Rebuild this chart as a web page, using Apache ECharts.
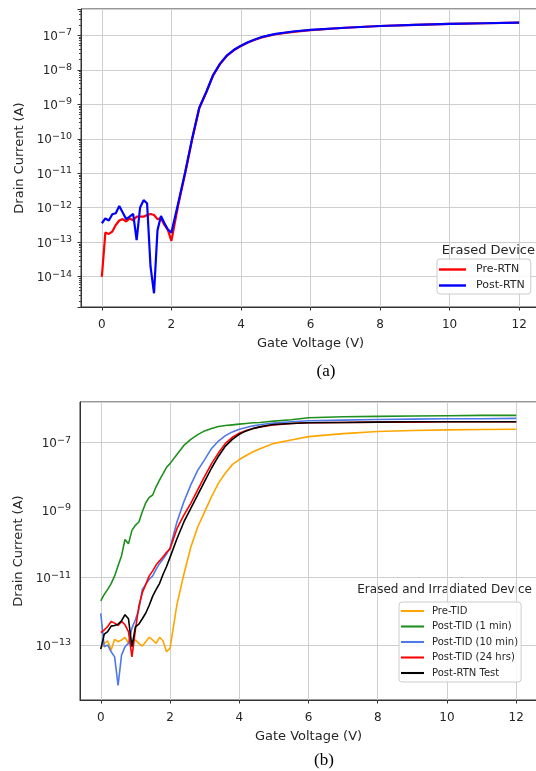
<!DOCTYPE html>
<html><head><meta charset="utf-8">
<script src="https://cdn.jsdelivr.net/npm/echarts@6/dist/echarts.min.js"></script>
<style>html,body{margin:0;padding:0;background:#fff}#c{width:536px;height:771px}</style>
</head><body><div id="c"></div>
<script>
// Gate voltage sweep (V), shared by every series
const voltage = [0,0.1,0.2,0.3,0.4,0.5,0.6,0.7,0.8,0.9,1.0,1.1,1.2,1.3,1.4,1.5,1.6,1.7,1.8,1.9,2.0,
  2.2,2.4,2.6,2.8,3.0,3.2,3.4,3.6,3.8,4.0,4.2,4.4,4.6,4.8,5.0,
  5.5,6,7,8,9,10,11,12];

// (a) Erased device: log10 of drain current (A)
const preRtnLog = [-14.0,-12.72,-12.76,-12.69,-12.50,-12.37,-12.33,-12.40,-12.31,-12.36,-12.26,-12.26,-12.26,-12.21,-12.18,-12.21,-12.33,-12.31,-12.50,-12.65,-12.96,
  -11.9,-10.98,-10.0,-9.12,-8.66,-8.16,-7.83,-7.59,-7.43,-7.31,-7.21,-7.13,-7.06,-7.01,-6.97,
  -6.9,-6.85,-6.78,-6.73,-6.70,-6.67,-6.65,-6.63];
const postRtnLog = [-12.45,-12.31,-12.37,-12.19,-12.16,-11.95,-12.14,-12.33,-12.26,-12.18,-12.94,-11.99,-11.78,-11.87,-13.71,-14.48,-12.65,-12.24,-12.45,-12.63,-12.72,
  -11.85,-10.95,-9.98,-9.1,-8.65,-8.15,-7.82,-7.58,-7.42,-7.3,-7.2,-7.12,-7.05,-7.0,-6.96,
  -6.89,-6.84,-6.78,-6.73,-6.70,-6.67,-6.65,-6.63];

// (b) Erased and irradiated device: log10 of drain current (A)
const preTidLog = [-13.10,-12.95,-12.88,-13.15,-12.83,-12.90,-12.85,-12.77,-12.95,-12.88,-12.85,-12.95,-13.03,-12.90,-12.77,-12.85,-12.95,-12.77,-12.88,-13.20,-13.10,
  -11.8,-10.9,-10.1,-9.5,-9.05,-8.6,-8.2,-7.9,-7.65,-7.5,-7.38,-7.27,-7.18,-7.1,-7.02,
  -6.92,-6.82,-6.73,-6.67,-6.64,-6.62,-6.61,-6.60];
const postTid1Log = [-11.69,-11.5,-11.35,-11.18,-10.95,-10.65,-10.35,-9.87,-10.0,-9.6,-9.45,-9.35,-9.05,-8.78,-8.62,-8.55,-8.3,-8.1,-7.92,-7.73,-7.62,
  -7.35,-7.08,-6.9,-6.76,-6.65,-6.58,-6.52,-6.49,-6.47,-6.45,-6.43,-6.41,-6.40,-6.38,-6.36,
  -6.32,-6.26,-6.23,-6.22,-6.21,-6.20,-6.19,-6.19];
const postTid10Log = [-12.06,-13.05,-13.0,-13.2,-13.35,-14.2,-13.3,-13.05,-12.95,-12.5,-12.25,-11.95,-11.35,-11.2,-11.05,-10.95,-10.75,-10.58,-10.45,-10.3,-10.12,
  -9.35,-8.75,-8.25,-7.82,-7.5,-7.17,-6.95,-6.79,-6.68,-6.6,-6.55,-6.5,-6.47,-6.44,-6.42,
  -6.38,-6.35,-6.33,-6.31,-6.30,-6.29,-6.29,-6.28];
const postTid24Log = [-12.63,-12.55,-12.45,-12.3,-12.35,-12.42,-12.3,-12.4,-12.6,-13.35,-12.55,-11.85,-11.45,-11.2,-10.95,-10.8,-10.62,-10.5,-10.38,-10.25,-10.15,
  -9.55,-9.15,-8.8,-8.4,-8.0,-7.62,-7.3,-7.02,-6.84,-6.72,-6.64,-6.58,-6.53,-6.5,-6.47,
  -6.43,-6.41,-6.40,-6.39,-6.39,-6.38,-6.38,-6.38];
const postRtnTestLog = [-13.12,-12.68,-12.6,-12.44,-12.42,-12.38,-12.28,-12.1,-12.22,-13.05,-12.46,-12.38,-12.22,-12.05,-11.82,-11.55,-11.35,-11.17,-10.9,-10.67,-10.4,
  -9.85,-9.35,-8.95,-8.55,-8.15,-7.75,-7.4,-7.1,-6.9,-6.75,-6.65,-6.58,-6.53,-6.49,-6.46,
  -6.43,-6.41,-6.40,-6.39,-6.38,-6.38,-6.38,-6.38];

const seriesNamesA = ['Pre-RTN','Post-RTN'];
const seriesNamesB = ['Pre-TID','Post-TID (1 min)','Post-TID (10 min)','Post-TID (24 hrs)','Post-RTN Test'];
const xTitle = 'Gate Voltage (V)';
const yTitle = 'Drain Current (A)';
const legendTitleA = 'Erased Device';
const legendTitleB = 'Erased and Irradiated Device';

function decade(v, oddOnly){
  const e = Math.log10(v);
  const r = Math.round(e);
  if (Math.abs(e - r) > 1e-6) return '';
  if (oddOnly && r % 2 === 0) return '';
  return '{b|10}{s|' + String(r).replace('-', '\u2212') + '}';
}
function pairs(arr){ return voltage.map((x,i) => [x, Math.pow(10, arr[i])]); }

const FONT = 'DejaVu Sans';
const TXT = '#262626';
const GRIDC = '#cfcfcf';
const RICH = {
  b:{fontFamily:FONT, fontSize:12, color:TXT, lineHeight:15, verticalAlign:'bottom'},
  s:{fontFamily:FONT, fontSize:9.5, color:TXT, lineHeight:15, verticalAlign:'top'}
};

function xAxisCfg(gi, gap){
  return {
    type:'value', gridIndex:gi, min:-0.6, max:12.6, splitNumber:6,
    name:xTitle, nameLocation:'middle', nameGap:gap,
    nameTextStyle:{fontFamily:FONT, fontSize:13, color:TXT},
    axisLine:{show:true, onZero:false, lineStyle:{color:'#333', width:1}},
    axisTick:{show:true, length:3.5, lineStyle:{color:'#333'}},
    axisLabel:{fontFamily:FONT, fontSize:12, color:TXT, margin:12, showMinLabel:false, showMaxLabel:false},
    splitLine:{show:true, lineStyle:{color:GRIDC, width:1}}
  };
}
const LINE_ICON = 'path://M0,0H100V9H0Z';

const option = {
  animation:false,
  backgroundColor:'#fff',
  grid:[
    {left:81, top:9, width:459, height:298, show:true, borderColor:'#333', borderWidth:1, outerBoundsMode:'none', containLabel:false},
    {left:80, top:402, width:457, height:298, show:true, borderColor:'#333', borderWidth:1, outerBoundsMode:'none', containLabel:false}
  ],
  xAxis:[xAxisCfg(0, 30), xAxisCfg(1, 30)],
  yAxis:[
    {type:'log', gridIndex:0, min:Math.pow(10,-14.878), max:Math.pow(10,-6.237),
     name:yTitle, nameLocation:'middle', nameGap:55,
     nameTextStyle:{fontFamily:FONT, fontSize:13, color:TXT},
     axisLine:{show:true, onZero:false, lineStyle:{color:'#333'}},
     axisTick:{show:true, length:3.5, lineStyle:{color:'#333'}},
     minorTick:{show:true, splitNumber:9, length:2, lineStyle:{color:'#444'}},
     axisLabel:{margin:9, formatter:v => decade(v,false), rich:RICH},
     splitLine:{show:true, lineStyle:{color:GRIDC, width:1}}},
    {type:'log', gridIndex:1, min:Math.pow(10,-14.63), max:Math.pow(10,-5.793),
     name:yTitle, nameLocation:'middle', nameGap:55,
     nameTextStyle:{fontFamily:FONT, fontSize:13, color:TXT},
     axisLine:{show:true, onZero:false, lineStyle:{color:'#333'}},
     axisTick:{show:false},
     axisLabel:{margin:9, formatter:v => decade(v,true), rich:RICH},
     // first split line is the lower bound; alternate so only odd decades get a visible line
     splitLine:{show:true, lineStyle:{color:[GRIDC, 'rgba(0,0,0,0)'], width:1}}}
  ],
  legend:[
    {data:seriesNamesA, orient:'vertical', left:437, top:259, itemWidth:27, itemHeight:14, itemGap:5, icon:LINE_ICON,
     padding:[5,6,3,2], borderColor:'#cccccc', borderWidth:1, borderRadius:3, backgroundColor:'rgba(255,255,255,0.85)',
     textStyle:{fontFamily:FONT, fontSize:11, color:TXT, padding:[0,0,0,5]}},
    {data:seriesNamesB, orient:'vertical', left:399, top:602, itemWidth:23, itemHeight:12, itemGap:5.5, icon:LINE_ICON,
     padding:[4,3,4,2], borderColor:'#cccccc', borderWidth:1, borderRadius:3, backgroundColor:'rgba(255,255,255,0.85)',
     textStyle:{fontFamily:FONT, fontSize:10, color:TXT, padding:[0,0,0,3]}}
  ],
  graphic:[
    {type:'text', x:535, y:251, style:{text:legendTitleA, align:'right', verticalAlign:'middle', font:'13px "DejaVu Sans"', fill:TXT}},
    {type:'text', x:532, y:590, style:{text:legendTitleB, align:'right', verticalAlign:'middle', font:'12px "DejaVu Sans"', fill:TXT}},
    {type:'text', x:326, y:372, style:{text:'(a)', align:'center', verticalAlign:'middle', font:'17px "Liberation Serif"', fill:'#000'}},
    {type:'text', x:324, y:761, style:{text:'(b)', align:'center', verticalAlign:'middle', font:'17px "Liberation Serif"', fill:'#000'}}
  ],
  series:[
    {name:'Pre-RTN', type:'line', xAxisIndex:0, yAxisIndex:0, data:pairs(preRtnLog), symbol:'none', color:'#ff0000', lineStyle:{width:2.2}},
    {name:'Post-RTN', type:'line', xAxisIndex:0, yAxisIndex:0, data:pairs(postRtnLog), symbol:'none', color:'#0000ff', lineStyle:{width:2.2}},
    {name:'Pre-TID', type:'line', xAxisIndex:1, yAxisIndex:1, data:pairs(preTidLog), symbol:'none', color:'#ffa500', lineStyle:{width:1.6}},
    {name:'Post-TID (1 min)', type:'line', xAxisIndex:1, yAxisIndex:1, data:pairs(postTid1Log), symbol:'none', color:'#1f8f1f', lineStyle:{width:1.6}},
    {name:'Post-TID (10 min)', type:'line', xAxisIndex:1, yAxisIndex:1, data:pairs(postTid10Log), symbol:'none', color:'#4f78e8', lineStyle:{width:1.6}},
    {name:'Post-TID (24 hrs)', type:'line', xAxisIndex:1, yAxisIndex:1, data:pairs(postTid24Log), symbol:'none', color:'#ff0000', lineStyle:{width:1.6}},
    {name:'Post-RTN Test', type:'line', xAxisIndex:1, yAxisIndex:1, data:pairs(postRtnTestLog), symbol:'none', color:'#000000', lineStyle:{width:1.6}}
  ]
};
const chart = echarts.init(document.getElementById('c'), null, {renderer:'canvas'});
chart.setOption(option);
</script>
</body></html>
